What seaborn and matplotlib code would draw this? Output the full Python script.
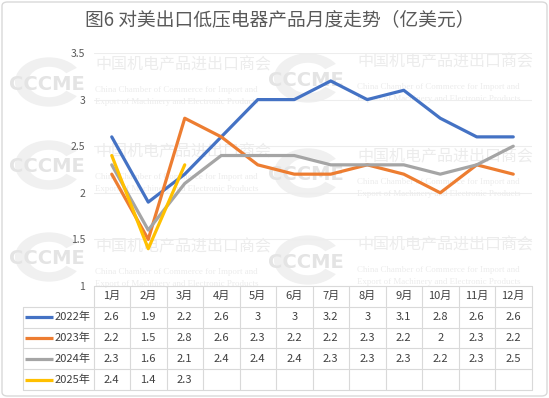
import numpy as np
import pandas as pd
import matplotlib
matplotlib.use('Agg')
import matplotlib.pyplot as plt
import seaborn as sns
from matplotlib.transforms import blended_transform_factory
from matplotlib.patches import FancyBboxPatch, Wedge
from matplotlib.lines import Line2D

# ---------------- data ----------------
months = ['1月', '2月', '3月', '4月', '5月', '6月', '7月', '8月', '9月', '10月', '11月', '12月']
years = ['2022年', '2023年', '2024年', '2025年']
y2022 = [2.6, 1.9, 2.2, 2.6, 3, 3, 3.2, 3, 3.1, 2.8, 2.6, 2.6]
y2023 = [2.2, 1.5, 2.8, 2.6, 2.3, 2.2, 2.2, 2.3, 2.2, 2, 2.3, 2.2]
y2024 = [2.3, 1.6, 2.1, 2.4, 2.4, 2.4, 2.3, 2.3, 2.3, 2.2, 2.3, 2.5]
y2025 = [2.4, 1.4, 2.3]
colors = ['#4472C4', '#ED7D31', '#A5A5A5', '#FFC000']
yticks = [1, 1.5, 2, 2.5, 3, 3.5]
title = '图6 对美出口低压电器产品月度走势（亿美元）'

series = [y2022, y2023, y2024, y2025]
rows = []
for yr, vals in zip(years, series):
    for i, v in enumerate(vals):
        rows.append({'year': yr, 'idx': i, 'month': months[i], 'value': v})
df = pd.DataFrame(rows)

# ---------------- style ----------------
sns.set_theme(style='white')
plt.rcParams['font.family'] = ['Noto Sans CJK SC', 'DejaVu Sans']

W, H = 549, 398
fig = plt.figure(figsize=(W / 100, H / 100), dpi=100)
fig.patch.set_facecolor('white')

# border of the figure
fig.patches.append(FancyBboxPatch((2 / W, 2 / H), 1 - 4 / W, 1 - 4 / H,
                                  boxstyle='round,pad=0,rounding_size=0.01',
                                  transform=fig.transFigure, fc='none',
                                  ec='#D9D9D9', lw=1.0))

# ---------------- watermarks ----------------
wm_gray = '#ECECEC'
logo_pos = [(49, 82), (49, 165), (49, 257), (308, 78), (308, 173), (308, 260)]
for (lx, ly) in logo_pos:
    fig.patches.append(Wedge((lx / W, 1 - ly / H), 34 / W, 35, 325, width=13 / W,
                             transform=fig.transFigure, fc='#F0F0F0', ec='none', zorder=0))
    fig.text((lx - 2) / W, 1 - (ly + 2) / H, 'CCCME', ha='center', va='center',
             fontsize=14, fontweight='bold', color='#E4E4E4', family='DejaVu Sans', zorder=0.5)
text_pos = [(95, 65), (95, 152), (95, 247), (357, 62), (357, 157), (357, 245)]
for (tx, ty) in text_pos:
    fig.text(tx / W, 1 - ty / H, '中国机电产品进出口商会', ha='left', va='center',
             fontsize=11.5, color=wm_gray, zorder=0.5)
    fig.text(tx / W, 1 - (ty + 25) / H, 'China Chamber of Commerce for Import and',
             ha='left', va='center', fontsize=6.4, color=wm_gray,
             family='Liberation Serif', zorder=0.5)
    fig.text(tx / W, 1 - (ty + 37) / H, 'Export of Machinery and Electronic Products',
             ha='left', va='center', fontsize=6.4, color=wm_gray,
             family='Liberation Serif', zorder=0.5)

# ---------------- axes ----------------
ax_left, ax_right, ax_top, ax_bot = 93.5, 531.5, 53, 286
ax = fig.add_axes([ax_left / W, 1 - ax_bot / H, (ax_right - ax_left) / W, (ax_bot - ax_top) / H])
ax.set_facecolor('none')
ax.set_zorder(2)

sns.lineplot(data=df, x='idx', y='value', hue='year', hue_order=years,
             palette=colors, linewidth=2.3, ax=ax, legend=False, sort=False)

ax.set_xlim(-0.5, 11.5)
ax.set_ylim(1, 3.5)
ax.set_yticks(yticks)
ax.set_yticklabels([f'{t:g}' for t in yticks])
ax.set_xticks([])
ax.set_xlabel('')
ax.set_ylabel('')
for s in ax.spines.values():
    s.set_visible(False)
ax.tick_params(axis='y', length=0, pad=6, labelsize=7.5, labelcolor='#595959')
for t in yticks[1:]:
    ax.axhline(t, color='#EDEDED', lw=0.8, zorder=0)

# ---------------- data table ----------------
trans = blended_transform_factory(ax.transData, ax.transAxes)
rh = 20.8 / (ax_bot - ax_top)
unit = (ax_right - ax_left) / 12.0
leg_left = -0.5 - (ax_left - 23) / unit
grid_c = '#D9D9D9'
n_rows = len(years) + 1

def hline(x0, x1, y):
    ax.add_line(Line2D([x0, x1], [y, y], transform=trans, color=grid_c, lw=0.8, clip_on=False))

def vline(x, y0, y1):
    ax.add_line(Line2D([x, x], [y0, y1], transform=trans, color=grid_c, lw=0.8, clip_on=False))

hline(-0.5, 11.5, 0)
for k in range(1, n_rows + 1):
    hline(leg_left, 11.5, -rh * k)
vline(leg_left, -rh, -rh * n_rows)
for i in range(13):
    vline(-0.5 + i, 0, -rh * n_rows)

for i, m in enumerate(months):
    ax.text(i, -rh * 0.5, m, transform=trans, ha='center', va='center',
            fontsize=8, color='#404040', clip_on=False)

for r, (yr, vals, c) in enumerate(zip(years, series, colors)):
    yc = -rh * (r + 1.5)
    x0 = leg_left + (25 - 23) / unit
    x1 = leg_left + (53 - 23) / unit
    ax.add_line(Line2D([x0, x1], [yc, yc], transform=trans, color=c, lw=2.3,
                       clip_on=False, solid_capstyle='butt'))
    ax.text(leg_left + (55 - 23) / unit, yc, yr, transform=trans, ha='left', va='center',
            fontsize=8, color='#404040', clip_on=False)
    for i, v in enumerate(vals):
        ax.text(i, yc, f'{v:g}', transform=trans, ha='center', va='center',
                fontsize=8, color='#404040', clip_on=False)

# ---------------- title ----------------
fig.text(279.5 / W, 1 - 20 / H, title, ha='center', va='center',
         fontsize=13.5, color='#595959')

fig.savefig('out.png', dpi=100)
